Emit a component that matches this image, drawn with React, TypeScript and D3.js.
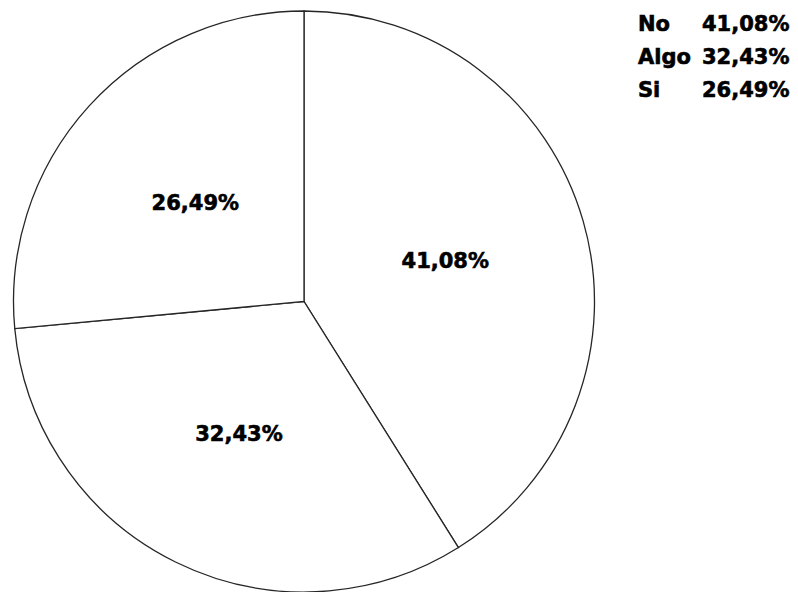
import React from "react";
import * as d3 from "d3";

const categories = ["No", "Algo", "Si"];
const values = [41.08, 32.43, 26.49];
const labels = ["41,08%", "32,43%", "26,49%"];

const W = 798;
const H = 592;
const CX = 304;
const CY = 301.5;
const R = 290.5;
const FONT = "'DejaVu Sans', sans-serif";

export default function App() {
  const pie = d3.pie<number>().sort(null).value((d) => d);
  const arcs = pie(values);
  const arc = d3.arc<d3.PieArcDatum<number>>().innerRadius(0).outerRadius(R);
  const labelArc = d3.arc<d3.PieArcDatum<number>>().innerRadius(147).outerRadius(147);

  const legendY = d3.scaleBand<string>().domain(categories).range([7, 106]);

  const textStyle = {
    fontFamily: FONT,
    fontWeight: "bold" as const,
    fontSize: 21,
    fill: "#000",
    stroke: "#000",
    strokeWidth: 0.6,
  };

  return (
    <div style={{ position: "fixed", left: 0, top: 0, width: W, height: H, background: "#fff" }}>
      <svg width={W} height={H} style={{ display: "block" }}>
        <rect width={W} height={H} fill="#fff" />
        <g transform={`translate(${CX},${CY})`}>
          {arcs.map((a, i) => (
            <path key={i} d={arc(a) || ""} fill="#fff" stroke="#262626" strokeWidth={1.3} />
          ))}
          {arcs.map((a, i) => {
            const [x, y] = labelArc.centroid(a);
            return (
              <text key={"l" + i} x={x} y={y} dy="0.36em" textAnchor="middle" style={textStyle}>
                {labels[i]}
              </text>
            );
          })}
        </g>
        <g>
          {categories.map((c, i) => {
            const y = (legendY(c) || 0) + legendY.bandwidth() / 2 + 7.5;
            return (
              <g key={c}>
                <text x={638} y={y} style={textStyle}>
                  {c}
                </text>
                <text x={702} y={y} style={textStyle}>
                  {labels[i]}
                </text>
              </g>
            );
          })}
        </g>
      </svg>
    </div>
  );
}
